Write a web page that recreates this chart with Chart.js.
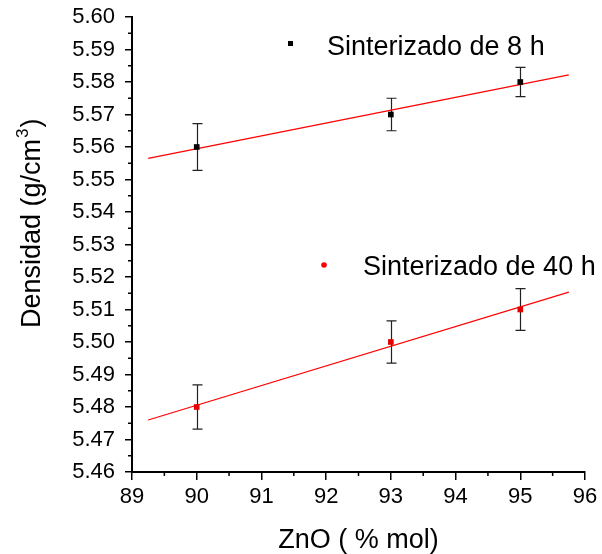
<!DOCTYPE html>
<html>
<head>
<meta charset="utf-8">
<script src="https://cdn.jsdelivr.net/npm/chart.js@4.4.1/dist/chart.umd.min.js"></script>
<style>
  html, body { margin:0; padding:0; background:#fff; }
  #wrap { width:602px; height:554px; }
</style>
</head>
<body>
<div id="wrap"><canvas id="densChart" width="602" height="554"></canvas></div>
<script>
// ZnO content (% mol) and measured density (g/cm3) for both sintering times
const zno = [90, 93, 95];
const dens8h = [5.56, 5.57, 5.58];
const err8h = [0.0072, 0.005, 0.0045];
const dens40h = [5.48, 5.50, 5.51];
const err40h = [0.0068, 0.0065, 0.0064];
const fitRange = [89.25, 95.75];
const legendLabels = ['Sinterizado de 8 h', 'Sinterizado de 40 h'];

const FONT = "'Liberation Sans', Arial, sans-serif";

// least squares line over fitRange
function linFit(xs, ys){
  const n = xs.length;
  const mx = xs.reduce((a,b)=>a+b,0)/n, my = ys.reduce((a,b)=>a+b,0)/n;
  let sxy=0, sxx=0;
  xs.forEach((x,i)=>{ sxy += (x-mx)*(ys[i]-my); sxx += (x-mx)*(x-mx); });
  const m = sxy/sxx, b = my - m*mx;
  return fitRange.map(x => ({ x, y: m*x + b }));
}
const pts = (ys) => zno.map((x,i)=>({ x, y: ys[i] }));

// error bars behind the markers
const errorBars = {
  id:'errorBars',
  beforeDatasetsDraw(chart){
    const { ctx, scales:{ x, y } } = chart;
    ctx.save();
    ctx.strokeStyle = '#222';
    ctx.lineWidth = 1.2;
    [[dens8h, err8h], [dens40h, err40h]].forEach(([vals, errs])=>{
      vals.forEach((v,i)=>{
        const px = Math.round(x.getPixelForValue(zno[i])) + 0.5;
        const top = y.getPixelForValue(v + errs[i]);
        const bot = y.getPixelForValue(v - errs[i]);
        ctx.beginPath();
        ctx.moveTo(px, top); ctx.lineTo(px, bot);
        ctx.moveTo(px-5, top); ctx.lineTo(px+5, top);
        ctx.moveTo(px-5, bot); ctx.lineTo(px+5, bot);
        ctx.stroke();
      });
    });
    ctx.restore();
  }
};

// minor ticks, y title with superscript, in-plot legend
const decorations = {
  id:'decorations',
  afterDraw(chart){
    const { ctx, chartArea:a, scales:{ x, y } } = chart;
    ctx.save();
    ctx.strokeStyle = '#000';
    ctx.lineWidth = 1.5;
    ctx.beginPath();
    for (let v = 89.5; v < 96; v += 1){
      const px = x.getPixelForValue(v);
      ctx.moveTo(px, a.bottom); ctx.lineTo(px, a.bottom + 4);
    }
    for (let k = 0; k < 14; k++){
      const py = y.getPixelForValue(5.465 + k*0.01);
      ctx.moveTo(a.left, py); ctx.lineTo(a.left - 4, py);
    }
    ctx.stroke();

    // y axis title
    ctx.fillStyle = '#000';
    ctx.save();
    ctx.translate(40, 328);
    ctx.rotate(-Math.PI/2);
    ctx.textBaseline = 'alphabetic';
    ctx.textAlign = 'left';
    ctx.font = `27px ${FONT}`;
    const main = 'Densidad (g/cm';
    ctx.fillText(main, 0, 0);
    let w = ctx.measureText(main).width;
    ctx.font = `17px ${FONT}`;
    ctx.fillText('3', w + 1, -12);
    w += ctx.measureText('3').width + 2;
    ctx.font = `27px ${FONT}`;
    ctx.fillText(')', w, 0);
    ctx.restore();

    // legend
    ctx.font = `27px ${FONT}`;
    ctx.textBaseline = 'alphabetic';
    ctx.fillStyle = '#000';
    ctx.fillRect(288, 41, 5, 5);
    ctx.fillText(legendLabels[0], 327, 55);
    ctx.fillStyle = '#ff0000';
    ctx.beginPath(); ctx.arc(324, 265, 2.8, 0, Math.PI*2); ctx.fill();
    ctx.fillStyle = '#000';
    ctx.fillText(legendLabels[1], 363, 275);
    ctx.restore();
  }
};

const tickFont = { family: FONT, size: 22 };

new Chart(document.getElementById('densChart'), {
  type:'scatter',
  data:{ datasets:[
    { label: legendLabels[0], data: pts(dens8h), pointStyle:'rect', pointRadius:4, backgroundColor:'#000', borderColor:'#000', borderWidth:0 },
    { label: legendLabels[1], data: pts(dens40h), pointStyle:'rect', pointRadius:4, backgroundColor:'#e00000', borderColor:'#e00000', borderWidth:0 },
    { data: linFit(zno, dens8h), showLine:true, pointRadius:0, borderColor:'#ff0000', borderWidth:1.2 },
    { data: linFit(zno, dens40h), showLine:true, pointRadius:0, borderColor:'#ff0000', borderWidth:1.2 }
  ]},
  options:{
    responsive:false, animation:false, devicePixelRatio:1,
    layout:{ padding:{ top:17, right:17, left:0, bottom:0 } },
    plugins:{ legend:{ display:false }, tooltip:{ enabled:false } },
    scales:{
      x:{
        type:'linear', min:89, max:96,
        ticks:{ stepSize:1, color:'#000', font:tickFont, padding:4 },
        grid:{ drawOnChartArea:false, drawTicks:true, tickLength:8, color:'#000', lineWidth:1.5 },
        border:{ color:'#000', width:2 },
        title:{ display:true, text:'ZnO ( % mol)', color:'#000', font:{ family:FONT, size:27 }, padding:{ top:10, bottom:-3 } },
        afterFit(s){ s.height = 82; s.paddingRight = 0; }
      },
      y:{
        min:5.46, max:5.60,
        ticks:{ stepSize:0.01, color:'#000', font:tickFont, padding:10, callback:v => v.toFixed(2) },
        grid:{ drawOnChartArea:false, drawTicks:true, tickLength:7, color:'#000', lineWidth:1.5 },
        border:{ color:'#000', width:2 },
        afterFit(s){ s.width = 132; s.paddingTop = 0; s.paddingBottom = 0; }
      }
    }
  },
  plugins:[errorBars, decorations]
});
</script>
</body>
</html>
